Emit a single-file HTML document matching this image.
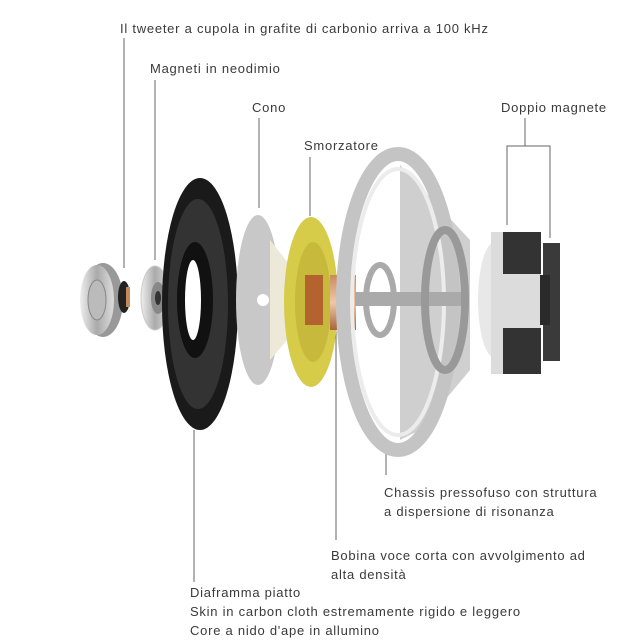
<!DOCTYPE html>
<html><head><style>
body{margin:0;background:#fff;}
svg{display:block}
text{font-family:"Liberation Sans",sans-serif;font-size:13px;fill:#3a3a3a;letter-spacing:0.75px}
</style></head><body>
<svg width="644" height="644" viewBox="0 0 644 644">
<defs>
<linearGradient id="met" x1="0" y1="0" x2="1" y2="0"><stop offset="0" stop-color="#eee"/><stop offset=".5" stop-color="#aaa"/><stop offset="1" stop-color="#ddd"/></linearGradient>
<linearGradient id="cop" x1="0" y1="0" x2="0" y2="1"><stop offset="0" stop-color="#c98a5e"/><stop offset=".5" stop-color="#f0c8a8"/><stop offset="1" stop-color="#a8643a"/></linearGradient>
</defs>
<g stroke="#666" stroke-width="1" fill="none">
<line x1="124" y1="38" x2="124" y2="268"/>
<line x1="155" y1="80" x2="155" y2="260"/>
<line x1="259" y1="118" x2="259" y2="208"/>
<line x1="310" y1="157" x2="310" y2="216"/>
<polyline points="507,225 507,146 550,146 550,238"/>
<line x1="525" y1="118" x2="525" y2="146"/>
<line x1="386" y1="448" x2="386" y2="475"/>
<line x1="336" y1="308" x2="336" y2="540"/>
<line x1="194" y1="430" x2="194" y2="582"/>
</g>
<ellipse cx="103" cy="300" rx="20" ry="37" fill="#999"/>
<ellipse cx="97" cy="300" rx="17" ry="35" fill="url(#met)"/>
<ellipse cx="97" cy="300" rx="9" ry="20" fill="#bbb" stroke="#888"/>
<ellipse cx="124" cy="297" rx="6" ry="16" fill="#222"/>
<rect x="126" y="287" width="4" height="20" fill="#c58a5a"/>
<ellipse cx="155" cy="298" rx="14" ry="32" fill="url(#met)" stroke="#ccc"/>
<ellipse cx="158" cy="298" rx="7" ry="16" fill="#888"/>
<ellipse cx="158" cy="298" rx="3" ry="7" fill="#333"/>
<ellipse cx="200" cy="304" rx="38" ry="126" fill="#1a1a1a"/>
<ellipse cx="198" cy="304" rx="30" ry="105" fill="#333"/>
<ellipse cx="195" cy="300" rx="18" ry="58" fill="#111"/>
<ellipse cx="193" cy="300" rx="8" ry="40" fill="#fff"/>
<ellipse cx="258" cy="300" rx="22" ry="85" fill="#c8c8c8"/>
<polygon points="270,240 300,278 300,325 270,360" fill="#ece9d8"/>
<circle cx="263" cy="300" r="6" fill="#fff"/>
<ellipse cx="311" cy="302" rx="27" ry="85" fill="#d7cb4a"/>
<ellipse cx="313" cy="302" rx="18" ry="60" fill="#c7b93c"/>
<rect x="305" y="275" width="18" height="50" fill="#b4622e"/>
<rect x="330" y="275" width="26" height="55" fill="url(#cop)"/>
<polygon points="400,165 470,240 470,370 420,430 400,440" fill="#cfcfcf"/>
<ellipse cx="398" cy="302" rx="55" ry="148" fill="none" stroke="#c4c4c4" stroke-width="14"/>
<ellipse cx="398" cy="302" rx="46" ry="133" fill="none" stroke="#ececec" stroke-width="4"/>
<rect x="355" y="292" width="110" height="14" fill="#aaa"/>
<ellipse cx="380" cy="300" rx="14" ry="35" fill="none" stroke="#aaa" stroke-width="6"/>
<ellipse cx="445" cy="300" rx="20" ry="70" fill="none" stroke="#999" stroke-width="8"/>
<ellipse cx="495" cy="300" rx="17" ry="58" fill="#e8e8e8"/>
<rect x="491" y="232" width="50" height="142" fill="#dcdcdc"/>
<rect x="503" y="232" width="38" height="42" fill="#333"/>
<rect x="503" y="328" width="38" height="46" fill="#333"/>
<rect x="543" y="243" width="17" height="118" fill="#3a3a3a"/>
<rect x="540" y="275" width="10" height="50" fill="#2a2a2a"/>
<text x="120" y="33">Il tweeter a cupola in grafite di carbonio arriva a 100 kHz</text>
<text x="150" y="73">Magneti in neodimio</text>
<text x="252" y="112">Cono</text>
<text x="304" y="150">Smorzatore</text>
<text x="501" y="112">Doppio magnete</text>
<text x="384" y="497">Chassis pressofuso con struttura</text>
<text x="384" y="516">a dispersione di risonanza</text>
<text x="331" y="560">Bobina voce corta con avvolgimento ad</text>
<text x="331" y="579">alta densità</text>
<text x="190" y="597">Diaframma piatto</text>
<text x="190" y="616">Skin in carbon cloth estremamente rigido e leggero</text>
<text x="190" y="635">Core a nido d'ape in allumino</text>
</svg>
</body></html>
